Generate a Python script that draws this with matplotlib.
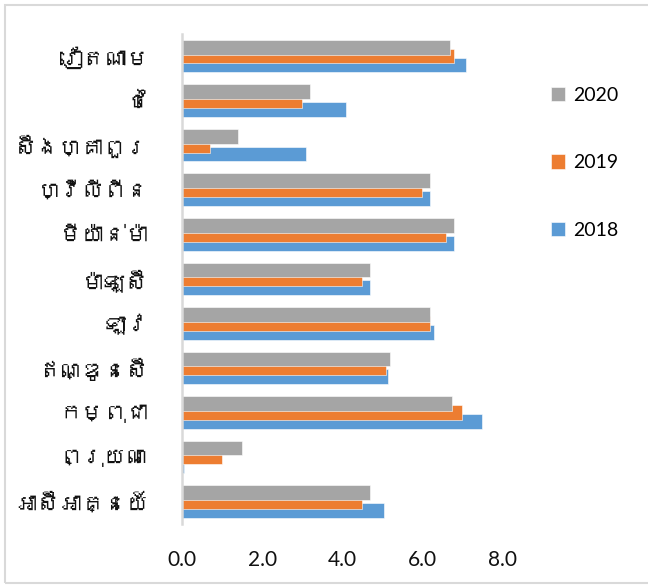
import matplotlib
matplotlib.use('Agg')
import matplotlib.pyplot as plt
from matplotlib import font_manager, ft2font
from matplotlib.patches import Rectangle
import numpy as np

# === DADOS ===
paises = ['វៀតណាម', 'ថៃ', 'ស៊ីងហ្គាពួរ', 'ហ្វីលីពីន', 'មីយ៉ាន់ម៉ា', 'ម៉ាឡេស៊ី',
          'ឡាវ', 'ឥណ្ឌូនេស៊ី', 'កម្ពុជា', 'ព្រុយណេ', 'អាស៊ីអាគ្នេយ៍']
v2018 = [7.1, 4.1, 3.1, 6.2, 6.8, 4.7, 6.3, 5.15, 7.5, 0.05, 5.05]
v2019 = [6.8, 3.0, 0.7, 6.0, 6.6, 4.5, 6.2, 5.1, 7.0, 1.0, 4.5]
v2020 = [6.7, 3.2, 1.4, 6.2, 6.8, 4.7, 6.2, 5.2, 6.75, 1.5, 4.7]
anos = ['2018', '2019', '2020']
cores = ['#5B9BD5', '#ED7D31', '#A5A5A5']
ticks_x = [0, 2, 4, 6, 8]

# Procura uma fonte com glifos khmer (se existir)
fonte_khmer = None
for f in font_manager.fontManager.ttflist:
    try:
        if 0x1780 in ft2font.FT2Font(f.fname).get_charmap():
            fonte_khmer = f.name
            break
    except Exception:
        pass
familia_rotulos = [fonte_khmer, 'DejaVu Sans'] if fonte_khmer else ['DejaVu Sans']

plt.rcParams['font.family'] = ['Lato', 'DejaVu Sans']

fig = plt.figure(figsize=(6.48, 5.85), dpi=100)
ax = fig.add_axes([0.281, 0.1046, 0.494, 0.8376])

y = np.arange(len(paises))
altura = 0.33
deslocamento = [0.2, 0.0, -0.2]
for valores, ano, cor, d in zip([v2018, v2019, v2020], anos, cores, deslocamento):
    ax.barh(y + d, valores, height=altura, color=cor, label=ano,
            edgecolor='white', linewidth=0.4, zorder=2)

ax.set_ylim(len(paises) - 0.5, -0.5)
ax.set_xlim(0, 8)
ax.set_xticks(ticks_x)
ax.set_xticklabels([f'{t:.1f}' for t in ticks_x], fontsize=15, color='#111111')
ax.set_yticks(y)
ax.set_yticklabels(paises, fontsize=16, family=familia_rotulos, color='#111111')
ax.tick_params(axis='both', length=0)
ax.tick_params(axis='y', pad=24)
ax.tick_params(axis='x', pad=19)

for lado in ['top', 'right', 'bottom']:
    ax.spines[lado].set_visible(False)
ax.spines['left'].set_color('#D9D9D9')
ax.spines['left'].set_linewidth(1.8)

handles, labels = ax.get_legend_handles_labels()
fig.legend(handles[::-1], labels[::-1], loc='upper left',
           bbox_to_anchor=(0.838, 0.865), frameon=False, fontsize=14,
           handlelength=0.75, handleheight=0.75, handletextpad=0.4,
           labelspacing=2.6, borderaxespad=0)

# Borda externa do gráfico
fig.patches.append(Rectangle((5 / 648, 2 / 585), 1.0, 578 / 585,
                             transform=fig.transFigure, fill=False,
                             edgecolor='#D9D9D9', linewidth=1.5))

plt.savefig('out.png', dpi=100)
